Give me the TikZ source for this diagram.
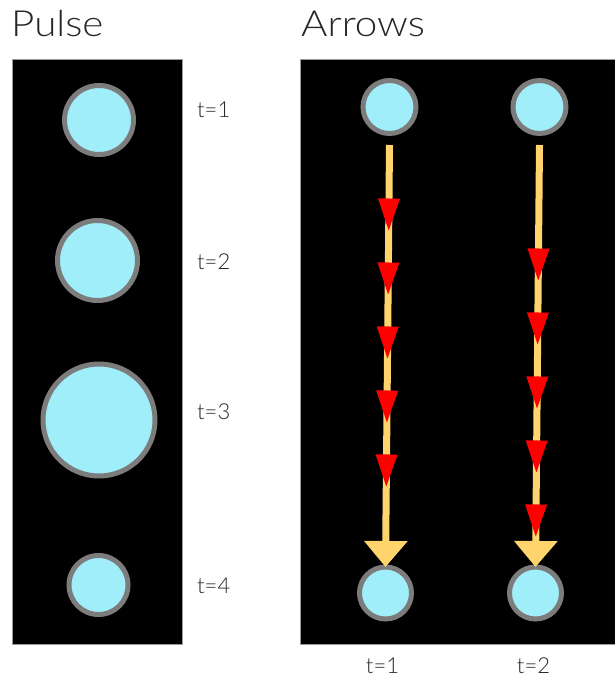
\documentclass[tikz,border=0pt]{standalone}
\usepackage{fontspec}
\setmainfont{Lato Light}
\newfontfamily\headfont{Lato Light}[FakeStretch=1.12]
\usetikzlibrary{arrows.meta,decorations.markings}
\definecolor{bubblefill}{HTML}{A0EEFA}
\definecolor{ringgray}{HTML}{7C7C7C}
\definecolor{beamyellow}{HTML}{FFD46C}
\definecolor{ink}{HTML}{262626}
\definecolor{framegray}{HTML}{9A9A9A}
\newcommand{\redtri}{\fill[red] (16,0) -- (-16,11) -- (-16,-11) -- cycle;}
\tikzset{
  bubble/.style={circle, fill=bubblefill, draw=ringgray, line width=5pt,
    inner sep=0pt, outer sep=0pt, minimum size=#1},
  panel/.style={fill=black, draw=framegray, line width=1pt},
  title/.style={anchor=base west, text=ink, inner sep=0pt,
    font=\headfont\fontsize{36}{40}\selectfont},
  tlabel/.style={text=ink, inner sep=0pt, font=\fontsize{22}{26}\selectfont},
  beam/.style={draw=beamyellow, line width=7pt,
    -{Triangle[width=42pt,length=26pt]}},
  redmarks/.style 2 args={postaction={decorate}, decoration={markings,
    mark=between positions #1 and #2 step 64pt with {\redtri}}}
}
\begin{document}
\begin{tikzpicture}[x=1pt,y=-1pt]
  \useasboundingbox (0,0) rectangle (615,677);

  % titles
  \node[title] (pulse) at (11,37) {Pulse};
  \node[title] (arrows) at (301,37) {Arrows};

  % panels
  \draw[panel] (12,60) rectangle (182,644);
  \draw[panel] (300,60) rectangle (622,644);

  % pulse panel: one bubble growing and shrinking
  \node[bubble=69]  (p1) at (99,120)   {};
  \node[bubble=80]  (p2) at (97.5,260.5) {};
  \node[bubble=112] (p3) at (99,420)   {};
  \node[bubble=59]  (p4) at (98.5,585) {};

  \node[tlabel, anchor=base west] (l1) at (197,117) {t=1};
  \node[tlabel, anchor=base west] (l2) at (197,269) {t=2};
  \node[tlabel, anchor=base west] (l3) at (197,419) {t=3};
  \node[tlabel, anchor=base west] (l4) at (197,593) {t=4};

  % arrows panel: two signal paths
  \node[bubble=53] (a1) at (389.5,107) {};
  \node[bubble=53] (a2) at (539.5,107) {};
  \node[bubble=52] (b1) at (385.5,593) {};
  \node[bubble=52] (b2) at (535.5,593) {};

  \draw[beam, redmarks={69.5pt}{330pt}]  ([yshift=-11.5pt]a1.south) -- (b1.north);
  \draw[beam, redmarks={119.5pt}{380pt}] ([yshift=-11.5pt]a2.south) -- (b2.north);

  \node[tlabel, anchor=base] (m1) at (382.5,673) {t=1};
  \node[tlabel, anchor=base] (m2) at (533.5,673) {t=2};
\end{tikzpicture}
\end{document}
